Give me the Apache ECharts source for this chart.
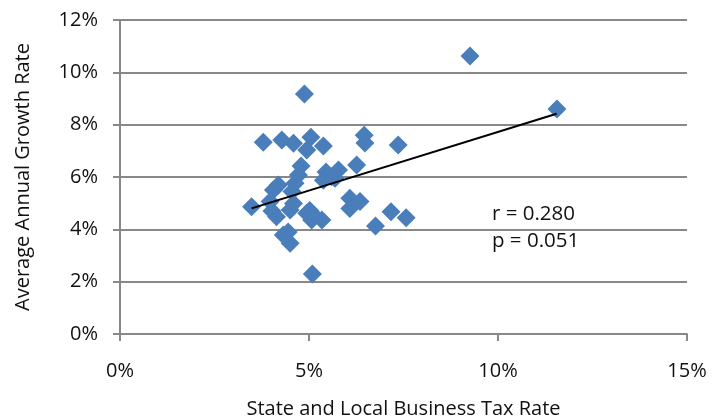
<!DOCTYPE html>
<html>
<head>
<meta charset="utf-8">
<script src="https://cdn.jsdelivr.net/npm/echarts@6/dist/echarts.min.js"></script>
<style>
  html, body { margin: 0; padding: 0; background: #fff; }
  #chart { width: 721px; height: 420px; }
</style>
</head>
<body>
<div id="chart"></div>
<script>
// 税率 (%) 与 平均年增长率 (%)
const taxRate = [
  3.79, 4.28, 4.59, 5.05, 4.94, 5.38, 6.46, 6.48, 7.36, 4.88, 9.26, 11.56,
  4.79, 4.72, 5.45, 5.78, 6.26, 5.60, 5.38, 5.69, 4.63, 4.19, 4.06, 4.55,
  3.48, 3.97, 4.14, 4.50, 4.59, 4.94, 5.07, 5.34, 5.12, 4.32, 4.50, 4.45,
  5.09, 6.08, 6.35, 6.08, 6.76, 7.17, 7.57, 4.02, 5.02
]
const growthRate = [
  7.33, 7.41, 7.29, 7.52, 7.03, 7.18, 7.60, 7.30, 7.22, 9.17, 10.62, 8.60,
  6.42, 6.08, 6.19, 6.27, 6.46, 6.01, 5.88, 5.95, 5.76, 5.69, 5.50, 5.45,
  4.86, 5.06, 4.48, 4.74, 4.99, 4.61, 4.36, 4.36, 4.55, 3.78, 3.47, 3.90,
  2.29, 5.19, 5.06, 4.80, 4.13, 4.67, 4.44, 4.70, 4.72
]

// 趋势线两端
const trendX = [3.48, 11.55]
const trendY = [4.80, 8.42]

// 坐标轴刻度
const xTicks = { min: 0, max: 15, interval: 5 }
const yTicks = { min: 0, max: 12, interval: 2 }

const statsText = ['r = 0.280', 'p = 0.051']

const font = '"Open Sans", sans-serif'
const gray = '#888888'
const blue = '#4a7ebb'
const textColor = '#111'

const chart = echarts.init(document.getElementById('chart'))

const option = {
  animation: false,
  grid: { left: 120, right: 34, top: 20, bottom: 86, outerBoundsMode: 'none', containLabel: false },
  xAxis: {
    type: 'value',
    min: xTicks.min,
    max: xTicks.max,
    interval: xTicks.interval,
    name: 'State and Local Business Tax Rate',
    nameLocation: 'middle',
    nameGap: 65,
    nameTextStyle: { fontFamily: font, fontSize: 20, color: textColor },
    axisLine: { show: true, lineStyle: { color: gray, width: 2 } },
    axisTick: { show: true, inside: false, length: 7, lineStyle: { color: gray, width: 2 } },
    axisLabel: { formatter: '{value}%', margin: 27, fontFamily: font, fontSize: 20, color: textColor },
    splitLine: { show: false }
  },
  yAxis: {
    type: 'value',
    min: yTicks.min,
    max: yTicks.max,
    interval: yTicks.interval,
    name: 'Average Annual Growth Rate',
    nameLocation: 'middle',
    nameGap: 87,
    nameTextStyle: { fontFamily: font, fontSize: 20, color: textColor },
    axisLine: { show: true, lineStyle: { color: gray, width: 2 } },
    axisTick: { show: true, inside: false, length: 7, lineStyle: { color: gray, width: 2 } },
    axisLabel: { formatter: '{value}%', margin: 22, fontFamily: font, fontSize: 20, color: textColor },
    splitLine: { show: true, lineStyle: { color: gray, width: 2 } }
  },
  series: [
    {
      type: 'scatter',
      data: taxRate.map((x, i) => [x, growthRate[i]]),
      symbol: 'diamond',
      symbolSize: 19,
      itemStyle: { color: blue, opacity: 1 },
      z: 2
    },
    {
      type: 'line',
      data: trendX.map((x, i) => [x, trendY[i]]),
      symbol: 'none',
      lineStyle: { color: '#000', width: 2 },
      z: 3
    }
  ],
  graphic: statsText.map((t, i) => ({
    type: 'text',
    left: 492,
    top: 204 + i * 27,
    style: { text: t, fontFamily: font, fontSize: 20.5, fill: textColor }
  }))
}

chart.setOption(option)
</script>
</body>
</html>
